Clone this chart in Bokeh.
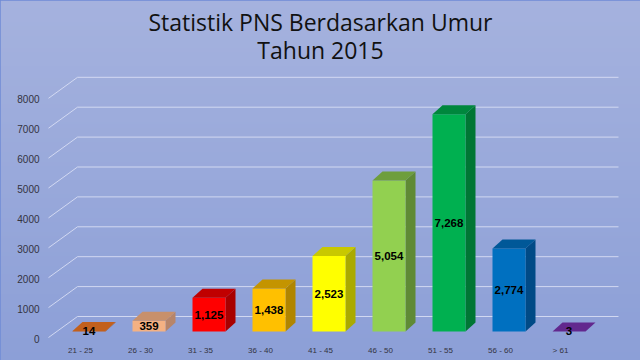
import numpy as np
from bokeh.plotting import figure
from bokeh.models import Range1d
from bokeh.core.properties import value
from bokeh.embed import file_html
from bokeh.resources import INLINE

# ---- data ----
categories = ["21 - 25", "26 - 30", "31 - 35", "36 - 40", "41 - 45",
              "46 - 50", "51 - 55", "56 - 60", "> 61"]
counts = [14, 359, 1125, 1438, 2523, 5054, 7268, 2774, 3]
y_ticks = [0, 1000, 2000, 3000, 4000, 5000, 6000, 7000, 8000]
tick_labels = [str(t) for t in y_ticks]
title_lines = ["Statistik PNS Berdasarkan Umur", "Tahun 2015"]

front_colors = ["#C55A11", "#F4B183", "#FF0000", "#FFC000", "#FFFF00",
                "#92D050", "#00B050", "#0070C0", "#7030A0"]
top_colors = ["#C2601C", "#C8906B", "#C00000", "#C49400", "#C8C800",
              "#6E9E3C", "#00873D", "#005898", "#62288E"]
side_colors = ["#A24A0E", "#B7856A", "#A80000", "#B08500", "#AAAA00",
               "#5F8A35", "#007634", "#004A86", "#542078"]

# ---- geometry (pixels -> data units) ----
W, H = 640, 360
PX_PER_CAT = 60.0
X0_PX = 80.0
BASE_PX = 331.0
U = 1000.0 / 29.9          # value units per pixel
CX = 1.0 / PX_PER_CAT      # category units per pixel

x_range = Range1d(-X0_PX * CX, (W - X0_PX) * CX)
y_range = Range1d(-(H - BASE_PX) * U, BASE_PX * U)

p = figure(width=W, height=H, x_range=x_range, y_range=y_range,
           output_backend="svg", toolbar_location=None,
           x_axis_location=None, y_axis_location=None, min_border=0)
p.grid.visible = False
p.background_fill_color = "#98a9da"
p.border_fill_color = "#98a9da"
p.outline_line_color = "#6f8bd6"
p.outline_line_width = 2

# ---- background gradient ----
n = 180
top_rgb = np.array([165, 178, 222], dtype=float)
bot_rgb = np.array([140, 159, 215], dtype=float)
t = np.linspace(0, 1, n)[:, None]
cols = bot_rgb + (top_rgb - bot_rgb) * t
img = np.zeros((n, 2), dtype=np.uint32)
view = img.view(dtype=np.uint8).reshape((n, 2, 4))
for c in range(3):
    view[:, :, c] = cols[:, c].round().astype(np.uint8)[:, None]
view[:, :, 3] = 255
p.image_rgba(image=[img], x=x_range.start, y=y_range.start,
             dw=x_range.end - x_range.start, dh=y_range.end - y_range.start)

# ---- gridlines (wall + back wall) ----
gx = [[(48 - X0_PX) * CX, (77 - X0_PX) * CX, (618 - X0_PX) * CX] for _ in y_ticks]
gy = [[tv - 6 * U, tv + 15 * U, tv + 15 * U] for tv in y_ticks]
p.multi_line(gx, gy, line_color="#d8def4", line_width=1, line_alpha=0.9)

# ---- 3D bars ----
idx = np.arange(len(categories))
left = idx - 8 * CX
right = idx + 25 * CX
DX = 10 * CX
DY = 9 * U

side_xs = [[r, r + DX, r + DX, r] for r in right]
side_ys = [[0, DY, v + DY, v] for v in counts]
top_xs = [[l, r, r + DX, l + DX] for l, r in zip(left, right)]
top_ys = [[v, v, v + DY, v + DY] for v in counts]

p.patches(side_xs, side_ys, fill_color=side_colors, line_color=None)
p.quad(left=left, right=right, bottom=0, top=counts,
       fill_color=front_colors, line_color=None)
p.patches(top_xs, top_ys, fill_color=top_colors, line_color=None)

# ---- value labels ----
p.text(x=idx + 8.5 * CX, y=[v / 2 for v in counts],
       text=[f"{v:,}" for v in counts],
       text_font=value("Liberation Sans"), text_font_style="bold",
       text_font_size="11.5px", text_color="#000000",
       text_align="center", text_baseline="middle")

# ---- y tick labels ----
p.text(x=[(39 - X0_PX) * CX] * len(y_ticks), y=[tv - 7 * U for tv in y_ticks],
       text=tick_labels, text_font=value("Liberation Sans"),
       text_font_size="10px", text_color="#33333f",
       text_align="right", text_baseline="middle")

# ---- x category labels ----
p.text(x=idx, y=[-(350 - BASE_PX) * U] * len(categories), text=categories,
       text_font=value("Liberation Sans"), text_font_size="8px",
       text_color="#33333f", text_align="center", text_baseline="middle")

# ---- title ----
p.text(x=[(320 - X0_PX) * CX] * 2,
       y=[(BASE_PX - 21) * U, (BASE_PX - 49) * U],
       text=title_lines, text_font=value("Open Sans"),
       text_font_size="23px", text_color="#111111",
       text_align="center", text_baseline="middle")

open("out.html", "w").write(file_html(p, INLINE))
